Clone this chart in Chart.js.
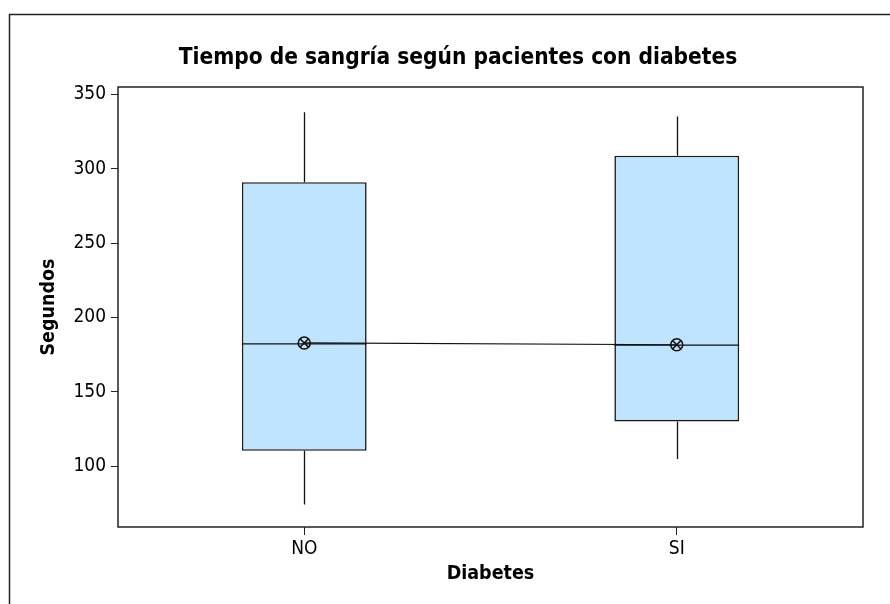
<!DOCTYPE html>
<html>
<head>
<meta charset="utf-8">
<script src="https://cdn.jsdelivr.net/npm/chart.js@4.4.1/dist/chart.umd.min.js"></script>
<style>
  body { margin: 0; background: #fff; }
</style>
</head>
<body>
<canvas id="myChart" width="890" height="604"></canvas>
<script>
// data
var categories = ['NO', 'SI'];
var q1 = [110.3, 130.0];
var q3 = [291.0, 308.8];
var medians = [182.2, 181.3];
var whiskerLow = [74.2, 104.7];
var whiskerHigh = [338.0, 335.2];
var means = [182.8, 181.6];
var yTicks = [100, 150, 200, 250, 300, 350];

var FONT = "'DejaVu Sans Condensed', 'Liberation Sans', sans-serif";

var boxes = [];
for (let i = 0; i < categories.length; i++) {
    boxes.push([q1[i], q3[i]]);
}

// outer frame, plot frame and title
var framePlugin = {
    id: 'frame',
    beforeDraw: function (chart) {
        var ctx = chart.ctx;
        ctx.save();
        ctx.strokeStyle = '#222';
        ctx.lineWidth = 1.5;
        ctx.beginPath();
        ctx.moveTo(9.5, 604);
        ctx.lineTo(9.5, 14.5);
        ctx.lineTo(890, 14.5);
        ctx.stroke();
        ctx.fillStyle = '#000';
        ctx.font = 'bold 22.5px ' + FONT;
        ctx.textAlign = 'center';
        ctx.textBaseline = 'middle';
        ctx.fillText('Tiempo de sangría según pacientes con diabetes', 458, 58);
        ctx.restore();
    },
    afterDraw: function (chart) {
        var a = chart.chartArea, ctx = chart.ctx;
        ctx.save();
        ctx.strokeStyle = '#222';
        ctx.lineWidth = 1.5;
        ctx.strokeRect(a.left, a.top, a.right - a.left, a.bottom - a.top);
        ctx.restore();
    }
};

// whiskers and median lines, placed with the chart scales
var boxPlugin = {
    id: 'boxExtras',
    afterDatasetsDraw: function (chart) {
        var ctx = chart.ctx;
        var y = chart.scales.y;
        var bars = chart.getDatasetMeta(0).data;
        ctx.save();
        ctx.strokeStyle = '#111';
        ctx.lineWidth = 1.3;
        for (let i = 0; i < categories.length; i++) {
            var b = bars[i];
            var x = Math.round(b.x) + 0.5;
            ctx.beginPath();
            ctx.moveTo(x, y.getPixelForValue(q3[i]));
            ctx.lineTo(x, y.getPixelForValue(whiskerHigh[i]));
            ctx.moveTo(x, y.getPixelForValue(q1[i]));
            ctx.lineTo(x, y.getPixelForValue(whiskerLow[i]));
            ctx.moveTo(b.x - b.width / 2, y.getPixelForValue(medians[i]));
            ctx.lineTo(b.x + b.width / 2, y.getPixelForValue(medians[i]));
            ctx.stroke();
        }
        ctx.restore();
    }
};

const ctx = document.getElementById('myChart').getContext('2d');
const myChart = new Chart(ctx, {
    data: {
        labels: categories,
        datasets: [{
            type: 'bar',
            data: boxes,
            backgroundColor: '#bee5fd',
            borderColor: '#1a1a1a',
            borderWidth: 1.6,
            borderSkipped: false,
            categoryPercentage: 1,
            barPercentage: 0.335,
            order: 3
        }, {
            type: 'line',
            data: means,
            borderColor: '#111',
            borderWidth: 1.2,
            pointStyle: 'circle',
            pointRadius: 6,
            pointBackgroundColor: 'rgba(0,0,0,0)',
            pointBorderColor: '#111',
            pointBorderWidth: 1.6,
            order: 1
        }, {
            type: 'line',
            data: means,
            showLine: false,
            pointStyle: 'crossRot',
            pointRadius: 6,
            pointBorderColor: '#111',
            pointBorderWidth: 1.6,
            order: 0
        }]
    },
    options: {
        responsive: false,
        animation: false,
        layout: { padding: { top: 87, right: 27, bottom: 0, left: 0 } },
        plugins: {
            legend: { display: false },
            tooltip: { enabled: false }
        },
        scales: {
            x: {
                type: 'category',
                offset: true,
                afterFit: function (scale) { scale.height = 77; },
                grid: { drawOnChartArea: false, drawTicks: true, tickLength: 8, color: '#222', offset: false },
                border: { display: false },
                ticks: { color: '#000', padding: 3, font: { family: FONT, size: 19 } },
                title: {
                    display: true, text: 'Diabetes', color: '#000',
                    font: { family: FONT, size: 19.5, weight: 'bold' },
                    padding: { top: 0, bottom: 18 }
                }
            },
            y: {
                min: 59,
                max: 355,
                afterFit: function (scale) { scale.width = 118; },
                afterBuildTicks: function (scale) {
                    scale.ticks = yTicks.map(function (v) { return { value: v }; });
                },
                grid: { drawOnChartArea: false, drawTicks: true, tickLength: 7, color: '#222' },
                border: { display: false },
                ticks: { color: '#000', padding: 5, font: { family: FONT, size: 19 } },
                title: {
                    display: true, text: 'Segundos', color: '#000',
                    font: { family: FONT, size: 19.5, weight: 'bold' },
                    padding: { top: 37, bottom: 0 }
                }
            }
        }
    },
    plugins: [framePlugin, boxPlugin]
});
</script>
</body>
</html>
